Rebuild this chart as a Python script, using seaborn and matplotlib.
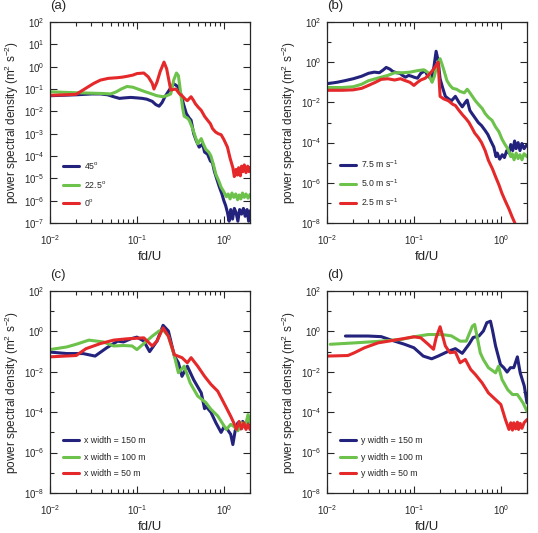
import numpy as np
import pandas as pd
import matplotlib
matplotlib.use("Agg")
import matplotlib.pyplot as plt
import seaborn as sns

sns.set_style("ticks")
plt.rcParams['font.family'] = ['Liberation Sans', 'DejaVu Sans']
plt.rcParams['mathtext.default'] = 'regular'

navy = '#23237d'
green = '#6cc24a'
red = '#e5282a'

# ---------------- panel (a): wind direction ----------------
a_labels = ['45$^o$', '22.5$^o$', '0$^o$']

a_x_45 = [0.01, 0.02, 0.03, 0.038, 0.046, 0.054, 0.063, 0.072, 0.085, 0.1, 0.115, 0.13, 0.15, 0.165,
          0.18, 0.195, 0.21, 0.24, 0.265, 0.28, 0.3, 0.32, 0.345, 0.37, 0.4, 0.42, 0.45, 0.48, 0.52,
          0.55, 0.57, 0.6, 0.65, 0.7, 0.74, 0.78, 0.84, 0.89, 0.95, 1.0, 1.05, 1.1, 1.15, 1.2, 1.26,
          1.32, 1.38, 1.45, 1.52, 1.6, 1.68, 1.76, 1.85, 1.93, 2.0]
a_y_45 = [0.05, 0.055, 0.06, 0.06, 0.055, 0.045, 0.038, 0.04, 0.042, 0.04, 0.038, 0.035, 0.028, 0.02,
          0.017, 0.025, 0.045, 0.1, 0.17, 0.15, 0.12, 0.06, 0.02, 0.008, 0.005, 0.004, 0.001, 0.0005,
          0.00025, 0.0003, 0.00035, 0.00015, 0.00012, 0.00006, 0.00005, 0.00002, 0.000008, 0.000004,
          0.000002, 0.000001, 0.0000006, 0.0000003, 0.00000012, 0.0000004, 0.00000015, 0.00000045,
          0.0000003, 0.00000012, 0.0000004, 0.00000025, 0.00000045, 0.0000002, 0.0000004, 0.00000012,
          0.00000035]

a_x_22 = [0.01, 0.02, 0.03, 0.04, 0.05, 0.058, 0.066, 0.077, 0.09, 0.11, 0.125, 0.14, 0.17, 0.2,
          0.22, 0.245, 0.265, 0.285, 0.3, 0.32, 0.335, 0.35, 0.38, 0.4, 0.43, 0.45, 0.5, 0.53, 0.55,
          0.58, 0.62, 0.67, 0.71, 0.76, 0.81, 0.87, 0.93, 1.0, 1.07, 1.12, 1.18, 1.24, 1.3, 1.37,
          1.44, 1.5, 1.57, 1.64, 1.72, 1.8, 1.9, 2.0]
a_y_22 = [0.075, 0.068, 0.065, 0.063, 0.06, 0.075, 0.1, 0.13, 0.12, 0.09, 0.075, 0.065, 0.05, 0.045,
          0.05, 0.06, 0.25, 0.52, 0.4, 0.06, 0.015, 0.006, 0.005, 0.004, 0.002, 0.0012, 0.00035,
          0.0005, 0.0006, 0.00035, 0.0002, 0.00015, 0.0001, 0.00004, 0.000015, 0.000008, 0.000004,
          0.0000025, 0.0000015, 0.000002, 0.0000012, 0.0000022, 0.0000014, 0.000002, 0.0000011,
          0.0000018, 0.0000012, 0.0000022, 0.0000014, 0.000002, 0.0000013, 0.0000019]

a_x_0 = [0.01, 0.015, 0.02, 0.024, 0.027, 0.032, 0.038, 0.047, 0.059, 0.068, 0.077, 0.09, 0.1, 0.12,
         0.135, 0.15, 0.157, 0.17, 0.185, 0.205, 0.22, 0.245, 0.28, 0.31, 0.33, 0.36, 0.38, 0.42,
         0.45, 0.47, 0.51, 0.55, 0.6, 0.65, 0.7, 0.74, 0.8, 0.86, 0.93, 1.0, 1.1, 1.18, 1.27, 1.32,
         1.38, 1.43, 1.48, 1.55, 1.6, 1.66, 1.72, 1.8, 1.88, 1.95, 2.0]
a_y_0 = [0.052, 0.055, 0.058, 0.09, 0.12, 0.18, 0.25, 0.3, 0.32, 0.34, 0.37, 0.42, 0.49, 0.52, 0.35,
         0.18, 0.1, 0.2, 0.6, 1.6, 0.8, 0.09, 0.1, 0.06, 0.05, 0.035, 0.03, 0.045, 0.03, 0.022, 0.015,
         0.011, 0.006, 0.004, 0.0028, 0.0017, 0.0012, 0.001, 0.0009, 0.00055, 0.00025, 0.00008,
         0.00003, 0.000012, 0.000025, 0.000014, 0.00003, 0.000013, 0.000035, 0.00002, 0.00004,
         0.000018, 0.000035, 0.00002, 0.00003]

# ---------------- panel (b): wind speed ----------------
b_labels = ['7.5 m s$^{-1}$', '5.0 m s$^{-1}$', '2.5 m s$^{-1}$']

b_x_75 = [0.01, 0.013, 0.016, 0.02, 0.025, 0.03, 0.035, 0.04, 0.044, 0.048, 0.053, 0.057, 0.063,
          0.069, 0.074, 0.08, 0.087, 0.094, 0.1, 0.11, 0.12, 0.134, 0.145, 0.16, 0.17, 0.18, 0.19,
          0.2, 0.215, 0.23, 0.25, 0.27, 0.3, 0.33, 0.36, 0.39, 0.41, 0.44, 0.46, 0.5, 0.55, 0.6,
          0.66, 0.71, 0.76, 0.83, 0.88, 0.91, 0.97, 1.04, 1.1, 1.17, 1.24, 1.3, 1.37, 1.44, 1.5,
          1.58, 1.66, 1.75, 1.85, 2.0]
b_y_75 = [0.085, 0.1, 0.12, 0.15, 0.2, 0.28, 0.32, 0.3, 0.4, 0.55, 0.45, 0.35, 0.3, 0.28, 0.22, 0.18,
          0.22, 0.2, 0.18, 0.16, 0.28, 0.38, 0.2, 0.15, 0.6, 3.5, 1.2, 0.15, 0.05, 0.02, 0.015, 0.012,
          0.02, 0.01, 0.006, 0.01, 0.013, 0.004, 0.003, 0.0018, 0.001, 0.0007, 0.0004, 0.00025,
          0.00013, 0.00006, 0.00002, 0.00003, 0.000015, 0.000025, 0.000018, 0.00004, 0.00003,
          0.00008, 0.00004, 0.00012, 0.00005, 0.0001, 0.00004, 0.00009, 0.00005, 0.00008]

b_x_50 = [0.01, 0.015, 0.02, 0.025, 0.03, 0.04, 0.05, 0.06, 0.075, 0.09, 0.11, 0.13, 0.146, 0.155,
          0.162, 0.172, 0.185, 0.2, 0.215, 0.24, 0.26, 0.28, 0.31, 0.34, 0.38, 0.41, 0.43, 0.47,
          0.51, 0.56, 0.61, 0.66, 0.72, 0.79, 0.87, 0.95, 1.03, 1.1, 1.2, 1.3, 1.35, 1.42, 1.5,
          1.58, 1.66, 1.75, 1.85, 2.0]
b_y_50 = [0.055, 0.055, 0.06, 0.08, 0.12, 0.17, 0.22, 0.3, 0.3, 0.32, 0.38, 0.42, 0.3, 0.15, 0.1,
          0.2, 0.8, 1.5, 0.6, 0.12, 0.07, 0.05, 0.045, 0.035, 0.03, 0.045, 0.035, 0.02, 0.012,
          0.0075, 0.005, 0.0028, 0.0018, 0.0013, 0.0006, 0.00035, 0.00015, 0.00009, 0.00005,
          0.00002, 0.000028, 0.000014, 0.00003, 0.000016, 0.000025, 0.000014, 0.000028, 0.00002]

b_x_25 = [0.01, 0.015, 0.02, 0.025, 0.03, 0.036, 0.042, 0.05, 0.06, 0.07, 0.08, 0.09, 0.1, 0.11,
          0.12, 0.135, 0.15, 0.165, 0.18, 0.19, 0.2, 0.22, 0.25, 0.28, 0.3, 0.33, 0.36, 0.4, 0.43,
          0.47, 0.5, 0.55, 0.6, 0.66, 0.72, 0.8, 0.87, 0.95, 1.03, 1.13, 1.24, 1.35, 1.45]
b_y_25 = [0.04, 0.04, 0.042, 0.05, 0.07, 0.1, 0.14, 0.15, 0.13, 0.15, 0.12, 0.1, 0.07, 0.1, 0.13,
          0.16, 0.25, 0.4, 0.7, 1.0, 0.02, 0.015, 0.012, 0.008, 0.007, 0.004, 0.0025, 0.0015,
          0.001, 0.0005, 0.0003, 0.00018, 0.0001, 0.00004, 0.000013, 0.000005, 0.000002,
          0.0000008, 0.0000003, 0.00000012, 0.00000005, 0.00000002, 0.00000001]

# ---------------- panel (c): x width ----------------
c_labels = ['x width = 150 m', 'x width = 100 m', 'x width = 50 m']

c_x_150 = [0.01, 0.0156, 0.024, 0.033, 0.045, 0.06, 0.07, 0.085, 0.1, 0.12, 0.14, 0.17, 0.2, 0.23,
           0.27, 0.3, 0.33, 0.38, 0.45, 0.55, 0.6, 0.62, 0.71, 0.81, 0.93, 1.0, 1.1, 1.2, 1.27,
           1.35, 1.45, 1.55, 1.65, 1.75, 1.9, 2.0]
c_y_150 = [0.095, 0.08, 0.08, 0.06, 0.155, 0.33, 0.3, 0.43, 0.52, 0.33, 0.1, 0.33, 2.0, 1.05, 0.06,
           0.028, 0.006, 0.019, 0.004, 0.0009, 0.00015, 0.0002, 0.0001, 0.00003, 0.00001, 0.000018,
           0.000014, 0.000008, 0.0000025, 0.000012, 0.00003, 0.000015, 0.000035, 0.000018, 0.00003,
           0.000022]

c_x_100 = [0.01, 0.0156, 0.02, 0.028, 0.041, 0.054, 0.07, 0.088, 0.1, 0.12, 0.15, 0.18, 0.2, 0.23,
           0.27, 0.3, 0.35, 0.41, 0.5, 0.62, 0.71, 0.85, 1.07, 1.2, 1.3, 1.45, 1.6, 1.75, 1.9, 2.0]
c_y_100 = [0.126, 0.17, 0.23, 0.37, 0.3, 0.19, 0.2, 0.19, 0.126, 0.25, 0.58, 1.05, 1.2, 0.58, 0.06,
           0.009, 0.019, 0.0028, 0.00063, 0.0003, 0.00014, 0.000065, 0.000014, 0.000025, 0.00002,
           0.000012, 0.00003, 0.000018, 0.000076, 0.00003]

c_x_50 = [0.01, 0.02, 0.026, 0.038, 0.054, 0.077, 0.12, 0.15, 0.17, 0.2, 0.23, 0.27, 0.33, 0.38,
          0.42, 0.5, 0.6, 0.71, 0.85, 1.0, 1.2, 1.3, 1.4, 1.5, 1.6, 1.7, 1.8, 1.9, 2.0]
c_y_50 = [0.055, 0.064, 0.14, 0.25, 0.37, 0.43, 0.48, 0.19, 0.33, 1.5, 0.58, 0.07, 0.05, 0.028,
          0.05, 0.019, 0.006, 0.0024, 0.0011, 0.00029, 0.000063, 0.00003, 0.000014, 0.000035,
          0.000015, 0.00003, 0.000014, 0.000025, 0.000014]

# ---------------- panel (d): y width ----------------
d_labels = ['y width = 150 m', 'y width = 100 m', 'y width = 50 m']

d_x_150 = [0.0163, 0.0296, 0.042, 0.055, 0.078, 0.1, 0.128, 0.16, 0.19, 0.25, 0.3, 0.36, 0.43,
           0.48, 0.56, 0.63, 0.69, 0.76, 0.8, 0.87, 0.99, 1.08, 1.18, 1.29, 1.41, 1.55, 1.67,
           1.86, 2.0]
d_y_150 = [0.59, 0.59, 0.55, 0.37, 0.23, 0.155, 0.06, 0.044, 0.06, 0.105, 0.14, 0.082, 0.23, 0.5,
           0.59, 1.05, 2.7, 3.2, 1.2, 0.19, 0.023, 0.016, 0.0097, 0.016, 0.016, 0.055, 0.0089,
           0.002, 0.00029]

d_x_100 = [0.0109, 0.0207, 0.0386, 0.072, 0.1, 0.146, 0.21, 0.27, 0.34, 0.4, 0.47, 0.5, 0.58,
           0.63, 0.72, 0.87, 0.94, 1.03, 1.2, 1.36, 1.55, 1.8, 2.0]
d_y_100 = [0.23, 0.27, 0.32, 0.4, 0.54, 0.7, 0.7, 0.6, 0.33, 0.33, 1.8, 2.2, 0.087, 0.04, 0.016,
           0.0089, 0.019, 0.0042, 0.0013, 0.00075, 0.00075, 0.00029, 0.00011]

d_x_50 = [0.01, 0.0174, 0.0207, 0.027, 0.0386, 0.06, 0.1, 0.12, 0.146, 0.168, 0.18, 0.2, 0.23,
          0.26, 0.3, 0.34, 0.39, 0.45, 0.51, 0.61, 0.72, 0.87, 1.0, 1.13, 1.24, 1.3, 1.36, 1.41,
          1.48, 1.55, 1.6, 1.67, 1.75, 1.85, 2.0]
d_y_50 = [0.06, 0.064, 0.088, 0.155, 0.27, 0.37, 0.54, 0.48, 0.23, 0.13, 0.48, 1.7, 0.19, 0.088,
          0.095, 0.028, 0.041, 0.013, 0.0073, 0.0028, 0.0009, 0.00042, 0.00024, 0.000043, 0.000014,
          0.00003, 0.000013, 0.00003, 0.000015, 0.000032, 0.000014, 0.000028, 0.000016, 0.00003,
          0.000043]

panels = [
    ('(a)', a_labels, [(a_x_45, a_y_45), (a_x_22, a_y_22), (a_x_0, a_y_0)], -7, 1),
    ('(b)', b_labels, [(b_x_75, b_y_75), (b_x_50, b_y_50), (b_x_25, b_y_25)], -8, 2),
    ('(c)', c_labels, [(c_x_150, c_y_150), (c_x_100, c_y_100), (c_x_50, c_y_50)], -8, 2),
    ('(d)', d_labels, [(d_x_150, d_y_150), (d_x_100, d_y_100), (d_x_50, d_y_50)], -8, 2),
]

# axes positions in pixels (left, top, right, bottom)
W, H = 538, 533
boxes = [(50, 22, 250, 223), (327, 22, 527, 223), (50, 291, 250, 493), (327, 291, 527, 493)]
colors = [navy, green, red]

fig = plt.figure(figsize=(W / 100, H / 100), dpi=100)

for (tag, labels, series, ymin_exp, step), (l, t, r, b) in zip(panels, boxes):
    ax = fig.add_axes([l / W, 1 - b / H, (r - l) / W, (b - t) / H])
    for (xs, ys), lab, col in zip(series, labels, colors):
        df = pd.DataFrame({'x': xs, 'y': ys})
        sns.lineplot(data=df, x='x', y='y', ax=ax, color=col, lw=2.2, label=lab,
                     sort=False, estimator=None)
    ax.set_xscale('log')
    ax.set_yscale('log')
    ax.set_xlim(0.01, 2.0)
    ax.set_ylim(10.0 ** ymin_exp, 1e2)

    xt = [1e-2, 1e-1, 1e0]
    ax.set_xticks(xt)
    ax.set_xticklabels(['$10^{-2}$', '$10^{-1}$', '$10^{0}$'])
    ax.set_xticks([m * d for d in [1e-2, 1e-1, 1e0] for m in range(2, 10) if m * d <= 2.0],
                  minor=True)
    ax.xaxis.set_minor_formatter(matplotlib.ticker.NullFormatter())

    exps = list(range(ymin_exp, 3))
    major = [e for e in exps if (e - ymin_exp) % step == 0]
    minor = [e for e in exps if (e - ymin_exp) % step != 0]
    ax.set_yticks([10.0 ** e for e in major])
    ax.set_yticklabels(['$10^{%d}$' % e for e in major])
    ax.set_yticks([10.0 ** e for e in minor], minor=True)
    ax.yaxis.set_minor_formatter(matplotlib.ticker.NullFormatter())

    ax.tick_params(which='both', direction='in', top=True, right=True, labelsize=7,
                   width=0.8)
    ax.tick_params(axis='x', which='major', pad=7)
    ax.tick_params(axis='y', which='major', pad=4)
    ax.tick_params(which='major', length=5)
    ax.tick_params(which='minor', length=3)
    for sp in ax.spines.values():
        sp.set_linewidth(0.9)

    ax.set_xlabel('fd/U', fontsize=9.5, labelpad=3)
    ax.set_ylabel('power spectral density (m$^2$ s$^{-2}$)', fontsize=8.5, labelpad=2)
    ax.text(0.0, 1.05, tag, transform=ax.transAxes, fontsize=9.5, ha='left', va='bottom')

    ax.legend(loc='lower left', frameon=False, fontsize=6.3, handlelength=1.8,
              handletextpad=0.6, labelspacing=0.85, borderaxespad=0.6,
              bbox_to_anchor=(0.02, 0.03))

fig.savefig('out.png', dpi=100)
